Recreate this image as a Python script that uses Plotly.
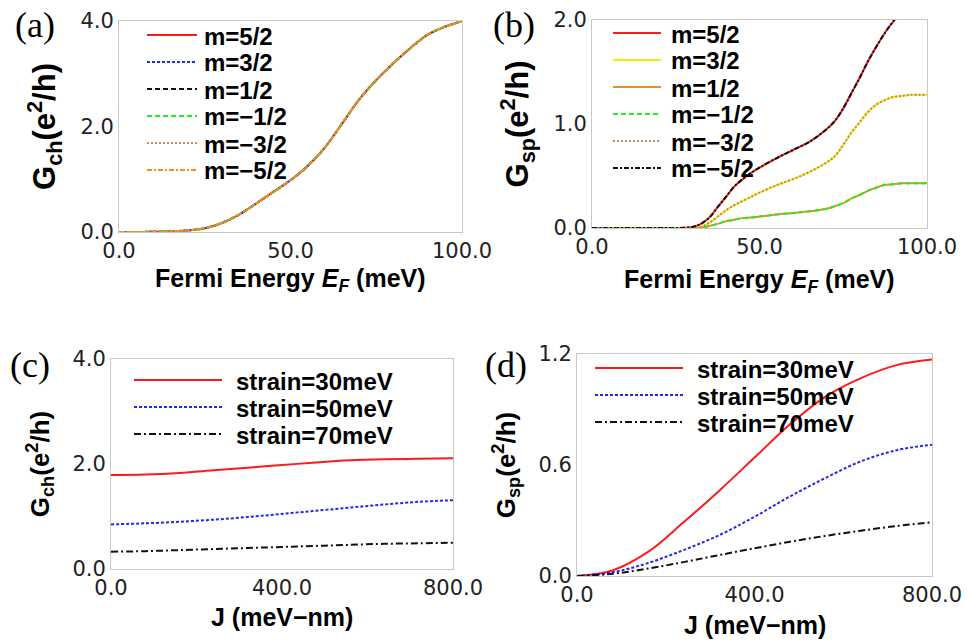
import plotly.graph_objects as go

# ---------------- data ----------------
# (a) charge conductance vs Fermi energy (all six m-channels coincide)
ef_a = [0, 5, 10, 15, 20, 25, 30, 35, 40, 45, 50, 55, 60, 65, 70, 75, 80, 85, 90, 95, 100]
gch_a = [0, 0, 0.005, 0.01, 0.03, 0.07, 0.17, 0.33, 0.54, 0.76, 0.98, 1.25, 1.6, 2.05,
         2.51, 2.88, 3.2, 3.49, 3.74, 3.89, 4.0]

# (b) spin conductance vs Fermi energy
ef_b = [0, 5, 10, 15, 20, 25, 30, 32.5, 35, 37.5, 40, 42.5, 45, 47.5, 50, 55, 60, 65, 70,
        72.5, 75, 77.5, 80, 82.5, 85, 87.5, 90, 92.5, 95, 100]
gsp_m52 = [0, 0, 0, 0, 0, 0, 0.01, 0.04, 0.10, 0.20, 0.30, 0.40, 0.47, 0.53, 0.58, 0.67,
           0.75, 0.83, 0.95, 1.03, 1.15, 1.30, 1.45, 1.61, 1.75, 1.88, 1.99, 2.10, None, None]
gsp_m32 = [0, 0, 0, 0, 0, 0, 0, 0.01, 0.05, 0.11, 0.17, 0.22, 0.26, 0.30, 0.34, 0.41,
           0.47, 0.54, 0.63, 0.69, 0.80, 0.92, 1.02, 1.12, 1.19, 1.23, 1.26, 1.27, 1.28, 1.28]
gsp_m12 = [0, 0, 0, 0, 0, 0, 0, 0, 0.02, 0.04, 0.065, 0.08, 0.095, 0.10, 0.11, 0.13,
           0.145, 0.16, 0.185, 0.21, 0.24, 0.285, 0.32, 0.36, 0.39, 0.415, 0.42, 0.43, 0.43, 0.43]

m_labels = ["m=5/2", "m=3/2", "m=1/2", "m=\u22121/2", "m=\u22123/2", "m=\u22125/2"]

# (c), (d) conductances vs exchange coupling J
j_vals = [0, 80, 160, 240, 320, 400, 480, 560, 640, 720, 800]
gch_s30 = [1.79, 1.80, 1.83, 1.88, 1.93, 1.98, 2.03, 2.07, 2.09, 2.10, 2.11]
gch_s50 = [0.85, 0.87, 0.90, 0.94, 0.99, 1.05, 1.11, 1.17, 1.23, 1.28, 1.31]
gch_s70 = [0.33, 0.34, 0.36, 0.38, 0.40, 0.42, 0.44, 0.46, 0.48, 0.49, 0.50]
gsp_s30 = [0, 0.03, 0.13, 0.29, 0.46, 0.64, 0.82, 0.97, 1.07, 1.14, 1.17]
gsp_s50 = [0, 0.02, 0.07, 0.14, 0.22, 0.32, 0.43, 0.53, 0.62, 0.68, 0.71]
gsp_s70 = [0, 0.012, 0.04, 0.075, 0.113, 0.15, 0.185, 0.217, 0.245, 0.27, 0.29]

strain_labels = ["strain=30meV", "strain=50meV", "strain=70meV"]

# ---------------- styles ----------------
W, H = 969, 642
a_colors = ["#ff1a1a", "#2626f0", "#111111", "#22ee22", "#c08a5a", "#ff8c1a"]
a_dashes = ["solid", "3px,2px", "5px,3px", "5px,3px", "2px,2px", "5px,2px,2px,2px"]
b_colors = ["#ff1a1a", "#f5ef00", "#f08a30", "#22ee22", "#c08a5a", "#111111"]
b_dashes = ["solid", "solid", "solid", "5px,3px", "2px,2px", "5px,2px,2px,2px"]
s_colors = ["#ff1a1a", "#2626f0", "#111111"]
s_dashes = ["solid", "3px,2px", "7px,3px,2px,3px"]

TITLE_FONT = "Liberation Sans"
TICK_FONT = dict(family="DejaVu Sans", size=21, color="#222222")
KEY_SIZE = 24


def px_x(p):
    return p / W


def px_y(p):
    return 1 - p / H


fig = go.Figure()

# panel (a)
for name, col, dsh in zip(m_labels, a_colors, a_dashes):
    fig.add_trace(go.Scatter(x=ef_a, y=gch_a, name=name, mode="lines",
                             line=dict(color=col, dash=dsh, width=2, shape="spline"),
                             xaxis="x", yaxis="y", showlegend=False))

# panel (b)
b_series = [gsp_m52, gsp_m32, gsp_m12, gsp_m12, gsp_m32, gsp_m52]
for name, ys, col, dsh in zip(m_labels, b_series, b_colors, b_dashes):
    fig.add_trace(go.Scatter(x=ef_b, y=ys, name=name, mode="lines",
                             line=dict(color=col, dash=dsh, width=2, shape="spline"),
                             xaxis="x2", yaxis="y2", showlegend=False))

# panel (c)
for name, ys, col, dsh in zip(strain_labels, [gch_s30, gch_s50, gch_s70], s_colors, s_dashes):
    fig.add_trace(go.Scatter(x=j_vals, y=ys, name=name, mode="lines",
                             line=dict(color=col, dash=dsh, width=2, shape="spline"),
                             xaxis="x3", yaxis="y3", showlegend=False))

# panel (d)
for name, ys, col, dsh in zip(strain_labels, [gsp_s30, gsp_s50, gsp_s70], s_colors, s_dashes):
    fig.add_trace(go.Scatter(x=j_vals, y=ys, name=name, mode="lines",
                             line=dict(color=col, dash=dsh, width=2, shape="spline"),
                             xaxis="x4", yaxis="y4", showlegend=False))


def xaxis(domain, rng, tickvals, anchor):
    return dict(domain=domain, range=rng, tickvals=tickvals, tickformat=".1f",
                showline=True, mirror=True, linecolor="#c8c8c8", linewidth=1,
                showgrid=False, zeroline=False, ticks="", tickfont=TICK_FONT,
                anchor=anchor, automargin=False)


def yaxis(domain, rng, tickvals, title, title_size, anchor):
    d = xaxis(domain, rng, tickvals, anchor)
    d["title"] = dict(text=title,
                      font=dict(family=TITLE_FONT, size=title_size, color="black"))
    return d


ef_title = "<b>Fermi Energy <i>E<sub>F</sub></i> (meV)</b>"
j_title = "<b>J (meV\u2212nm)</b>"
gch_title = "<b>G<sub>ch</sub>(e<sup>2</sup>/h)</b>"
gsp_title = "<b>G<sub>sp</sub>(e<sup>2</sup>/h)</b>"

fig.update_layout(
    width=W, height=H,
    margin=dict(l=0, r=0, t=0, b=0, pad=0, autoexpand=False),
    paper_bgcolor="white", plot_bgcolor="white",
    xaxis=xaxis([px_x(119), px_x(462)], [0, 100], [0, 50, 100], "y"),
    yaxis=yaxis([px_y(232), px_y(21)], [0, 4], [0, 2, 4], gch_title, 31, "x"),
    xaxis2=xaxis([px_x(592), px_x(927)], [0, 100], [0, 50, 100], "y2"),
    yaxis2=yaxis([px_y(228), px_y(20)], [0, 2], [0, 1, 2], gsp_title, 31, "x2"),
    xaxis3=xaxis([px_x(111), px_x(453)], [0, 800], [0, 400, 800], "y3"),
    yaxis3=yaxis([px_y(569), px_y(359)], [0, 4], [0, 2, 4], gch_title, 26, "x3"),
    xaxis4=xaxis([px_x(577), px_x(932)], [0, 800], [0, 400, 800], "y4"),
    yaxis4=yaxis([px_y(576), px_y(354)], [0, 1.2], [0, 0.6, 1.2], gsp_title, 26, "x4"),
)

# x-axis titles, centred under each panel
for text, (cx, cy) in zip([ef_title, ef_title, j_title, j_title],
                          [(290.5, 280), (759.5, 281), (282, 617), (754.5, 625)]):
    fig.add_annotation(text=text, x=px_x(cx), y=px_y(cy), xref="paper", yref="paper",
                       xanchor="center", yanchor="middle", showarrow=False, borderpad=0,
                       font=dict(family=TITLE_FONT, size=25, color="black"))

# panel letters
for label, (lx, ly) in zip(["(a)", "(b)", "(c)", "(d)"],
                           [(13, 25), (491, 25), (8, 365), (483, 365)]):
    fig.add_annotation(text=label, x=px_x(lx), y=px_y(ly), xref="paper", yref="paper",
                       xanchor="left", yanchor="middle", showarrow=False,
                       font=dict(family="Liberation Serif", size=36, color="black"))


# in-plot legends: line sample + bold label per series
def add_key(names, colors, dashes, x0, x1, xt, rows):
    for name, col, dsh, ry in zip(names, colors, dashes, rows):
        fig.add_shape(type="line", xref="paper", yref="paper",
                      x0=px_x(x0), x1=px_x(x1), y0=px_y(ry), y1=px_y(ry),
                      line=dict(color=col, dash=dsh, width=2))
        fig.add_annotation(text="<b>%s</b>" % name, x=px_x(xt), y=px_y(ry + 1),
                           xref="paper", yref="paper", xanchor="left", yanchor="middle",
                           showarrow=False, borderpad=0,
                           font=dict(family=TITLE_FONT, size=KEY_SIZE, color="black"))


add_key(m_labels, a_colors, a_dashes, 147, 197, 203, [35, 62, 89, 116, 143, 170])
add_key(m_labels, b_colors, b_dashes, 613, 661, 670, [33, 60, 87, 114, 141, 168])
add_key(strain_labels, s_colors, s_dashes, 134, 222, 235, [380, 407, 434])
add_key(strain_labels, s_colors, s_dashes, 595, 683, 696, [368, 395, 422])

fig.write_html("out.html")
